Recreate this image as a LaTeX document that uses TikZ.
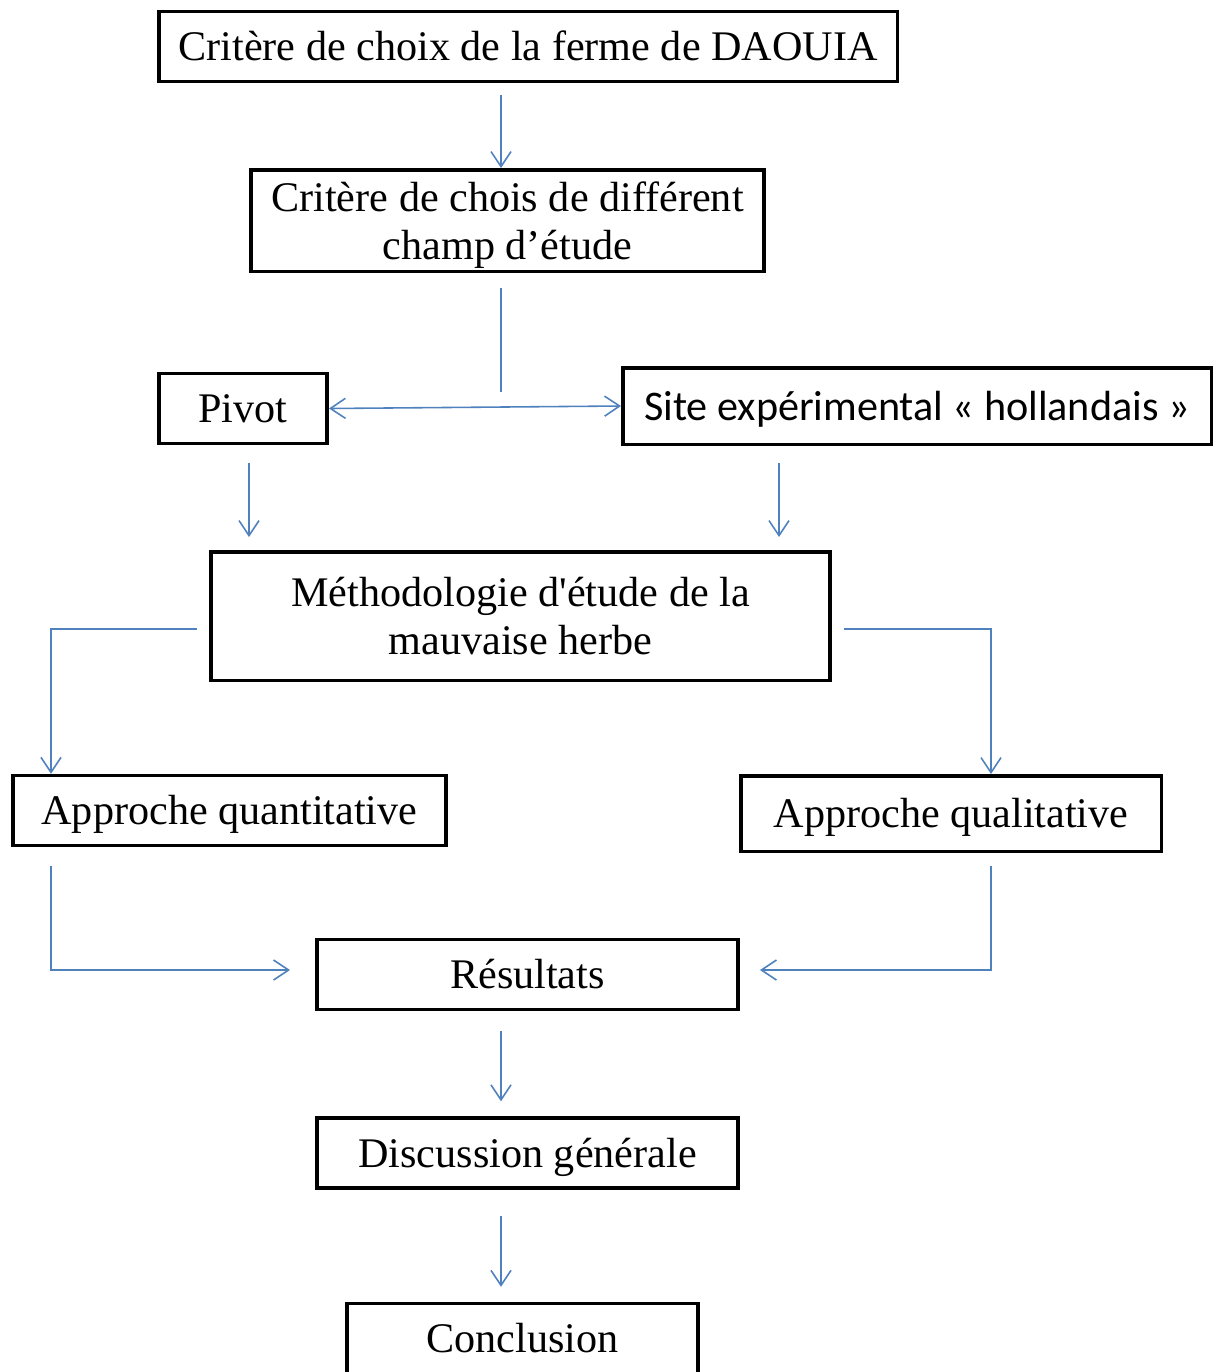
\documentclass[tikz,border=0pt]{standalone}
\usepackage{fontspec}
\newfontfamily\tnrfont{Liberation Serif}
\newfontfamily\calfnt{Carlito}
\usepackage{tikz}
\usetikzlibrary{arrows.meta,positioning,calc}
\definecolor{myblue}{RGB}{79,129,189}
\tikzstyle{block}=[draw,line width=2pt,rectangle,align=center,inner sep=0pt,minimum height=1.4cm,font=\tnrfont\fontsize{24}{27.3}\selectfont]
\tikzstyle{oneline}=[text height=18pt,text depth=2pt]
\tikzstyle{flow}=[draw=myblue,line width=0.9pt,-{Straight Barb[length=0.3cm,width=0.4cm]}]
\tikzstyle{plain}=[draw=myblue,line width=0.9pt]

\begin{document}
\begin{tikzpicture}
\clip (0,0) rectangle (24.3,-27.44);
\useasboundingbox (0,0) rectangle (24.3,-27.44);
\node [block,oneline,minimum width=14.77cm] (ferme) at (10.56,-0.93) {Critère de choix de la ferme de DAOUIA};
\node [block,text depth=0pt,minimum width=10.27cm,minimum height=2.03cm] (champ) at (10.15,-4.41) {Critère de chois de différent\\champ d’étude};
\node [block,oneline,minimum width=3.37cm] (pivot) at (4.86,-8.17) {Pivot};
\node [block,oneline,minimum width=11.77cm,minimum height=1.53cm,font=\calfnt\fontsize{24}{28}\selectfont] (site) at (18.34,-8.12) {Site expérimental « hollandais »};
\node [block,minimum width=12.39cm,minimum height=2.57cm] (metho) at (10.41,-12.32) {Méthodologie d'étude de la\\mauvaise herbe};
\node [block,oneline,minimum width=8.67cm] (quanti) at (4.59,-16.21) {Approche quantitative};
\node [block,oneline,minimum width=8.41cm,minimum height=1.51cm] (quali) at (19.02,-16.27) {Approche qualitative};
\node [block,oneline,minimum width=8.43cm] (result) at (10.55,-19.49) {Résultats};
\node [block,oneline,minimum width=8.43cm] (discu) at (10.55,-23.06) {Discussion générale};
\node [block,oneline,minimum width=7.03cm] (concl) at (10.45,-26.77) {Conclusion};

\coordinate (axis) at (10.02,0);
\coordinate (rcol) at (15.58,0);
\coordinate (split) at (10.02,-7.84);

\draw[flow,shorten <=0.24cm] (ferme.south -| axis) -- (champ.north -| axis);
\draw[plain,shorten <=0.3cm] (champ.south -| axis) -- (split);
\draw[flow,{Straight Barb[length=0.3cm,width=0.4cm]}-{Straight Barb[length=0.3cm,width=0.4cm]}] (pivot.east) -- (site.west);
\draw[flow,shorten <=0.36cm,shorten >=0.26cm] ([xshift=0.12cm]pivot.south) -- ([xshift=0.12cm]pivot.south |- metho.north);
\draw[flow,shorten <=0.34cm,shorten >=0.26cm] (site.south -| rcol) -- (metho.north -| rcol);
\draw[flow] ([xshift=-0.24cm,yshift=-0.26cm]metho.west) -| ([xshift=-3.57cm]quanti.north);
\draw[flow] ([xshift=0.24cm,yshift=-0.26cm]metho.east) -| ([xshift=0.8cm]quali.north);
\draw[flow,shorten >=0.5cm] ([xshift=-3.57cm,yshift=-0.38cm]quanti.south) |- ([yshift=0.09cm]result.west);
\draw[flow,shorten >=0.4cm] ([xshift=0.8cm,yshift=-0.26cm]quali.south) |- ([yshift=0.09cm]result.east);
\draw[flow,shorten <=0.4cm,shorten >=0.3cm] (result.south -| axis) -- (discu.north -| axis);
\draw[flow,shorten <=0.52cm,shorten >=0.3cm] (discu.south -| axis) -- (concl.north -| axis);
\end{tikzpicture}
\end{document}
